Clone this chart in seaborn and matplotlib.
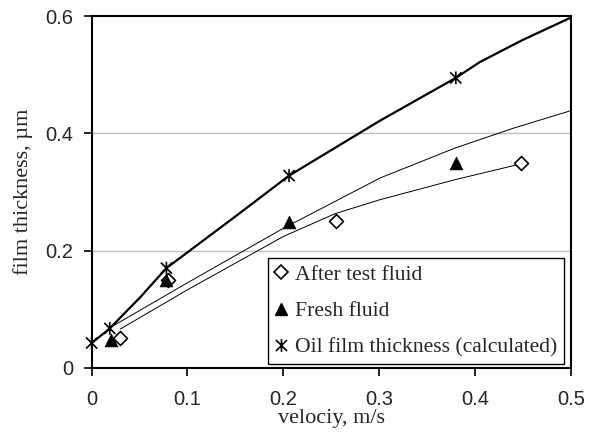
import numpy as np
import pandas as pd
import matplotlib
matplotlib.use("Agg")
import matplotlib.pyplot as plt
import seaborn as sns
from matplotlib.path import Path
from matplotlib.lines import Line2D

# measured points
after_x = [0.03, 0.08, 0.255, 0.448]
after_y = [0.05, 0.15, 0.25, 0.35]
fresh_x = [0.02, 0.078, 0.206, 0.38]
fresh_y = [0.048, 0.149, 0.248, 0.35]
calc_x = [0.0, 0.019, 0.078, 0.206, 0.38]
calc_y = [0.042, 0.067, 0.17, 0.328, 0.495]

# curves
calc_curve_x = [0.0, 0.019, 0.035, 0.05, 0.078, 0.153, 0.206, 0.301, 0.38, 0.405, 0.45, 0.5]
calc_curve_y = [0.042, 0.067, 0.094, 0.119, 0.17, 0.262, 0.328, 0.422, 0.495, 0.522, 0.56, 0.598]
fresh_curve_x = [0.022, 0.10, 0.2, 0.301, 0.379, 0.44, 0.5]
fresh_curve_y = [0.071, 0.145, 0.238, 0.324, 0.375, 0.409, 0.439]
after_curve_x = [0.03, 0.10, 0.2, 0.254, 0.301, 0.379, 0.44, 0.448]
after_curve_y = [0.066, 0.133, 0.224, 0.263, 0.287, 0.321, 0.345, 0.35]

x_ticks = [0, 0.1, 0.2, 0.3, 0.4, 0.5]
x_ticklabels = ["0", "0.1", "0.2", "0.3", "0.4", "0.5"]
y_ticks = [0, 0.2, 0.4, 0.6]
y_ticklabels = ["0", "0.2", "0.4", "0.6"]

sns.set_theme(style="white")
plt.rcParams["font.family"] = ["Liberation Serif", "DejaVu Serif"]

fig = plt.figure(figsize=(5.99, 4.32), dpi=100)
ax = fig.add_axes([0.153, 0.149, 0.8, 0.813])

for yv in [0.2, 0.4]:
    ax.axhline(yv, color="#c0c0c0", lw=1.0, zorder=0)

sns.lineplot(x=calc_curve_x, y=calc_curve_y, ax=ax, color="black", lw=1.6,
             sort=False, estimator=None)
sns.lineplot(x=fresh_curve_x, y=fresh_curve_y, ax=ax, color="black", lw=0.7,
             sort=False, estimator=None)
sns.lineplot(x=after_curve_x, y=after_curve_y, ax=ax, color="black", lw=0.7,
             sort=False, estimator=None)

star = Path([(-1, -1), (1, 1), (-1, 1), (1, -1), (0, -1.15), (0, 1.15)],
            [Path.MOVETO, Path.LINETO, Path.MOVETO, Path.LINETO, Path.MOVETO, Path.LINETO])

sns.scatterplot(x=after_x, y=after_y, ax=ax, marker="D", s=50, color="black",
                facecolor="white", edgecolor="black", linewidth=1.2, zorder=5, clip_on=False)
sns.scatterplot(x=fresh_x, y=fresh_y, ax=ax, marker="^", s=85, color="black",
                edgecolor="black", linewidth=0.5, zorder=5, clip_on=False)
sns.scatterplot(x=calc_x, y=calc_y, ax=ax, marker=star, s=85, color="black",
                facecolor="none", edgecolor="black", linewidth=1.2, zorder=6, clip_on=False)

ax.set_xlim(0, 0.5)
ax.set_ylim(0, 0.6)
ax.set_xticks(x_ticks)
ax.set_xticklabels(x_ticklabels, fontfamily="Liberation Sans", fontsize=14.5)
ax.set_yticks(y_ticks)
ax.set_yticklabels(y_ticklabels, fontfamily="Liberation Sans", fontsize=14.5)
ax.tick_params(axis="x", direction="out", length=6, width=1.2, color="black", pad=10)
ax.tick_params(axis="y", direction="out", length=6, width=1.2, color="black", pad=7)
ax.xaxis.set_ticks_position("bottom")
ax.yaxis.set_ticks_position("left")

for sp in ax.spines.values():
    sp.set_color("black")
    sp.set_linewidth(1.5)
    sp.set_visible(True)
    sp.set_zorder(7)

ax.set_xlabel("velociy, m/s", fontsize=16, labelpad=0)
ax.set_ylabel("film thickness, \u00b5m", fontsize=16, labelpad=9)
ax.grid(False)

handles = [
    Line2D([], [], ls="none", marker="D", ms=7, mfc="white", mec="black", mew=1.2),
    Line2D([], [], ls="none", marker="^", ms=9.2, mfc="black", mec="black"),
    Line2D([], [], ls="none", marker=star, ms=9.2, mfc="none", mec="black", mew=1.2),
]
labels = ["After test fluid", "Fresh fluid", "Oil film thickness (calculated)"]
leg = ax.legend(handles, labels, loc="lower right", bbox_to_anchor=(0.986, 0.01),
                fontsize=15.6, frameon=True, fancybox=False, framealpha=1,
                edgecolor="black", handlelength=0.6, handletextpad=0.35,
                labelspacing=0.75, borderpad=0.3, borderaxespad=0)
leg.get_frame().set_linewidth(1.0)

fig.savefig("out.png", dpi=100, facecolor="white")
